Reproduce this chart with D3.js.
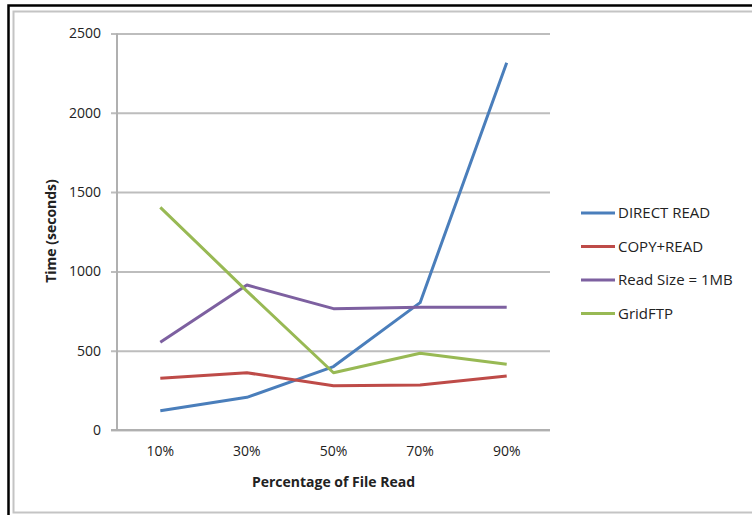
<!DOCTYPE html>
<html>
<head>
<meta charset="utf-8">
<script src="https://cdn.jsdelivr.net/npm/d3@7/dist/d3.min.js"></script>
<style>
  html, body { margin: 0; padding: 0; background: #fff; }
  svg { display: block; }
  text { font-family: "Open Sans", "Liberation Sans", sans-serif; fill: #222; }
</style>
</head>
<body>
<script>
// Time taken to read files, by percentage of the file read
const categories = ["10%", "30%", "50%", "70%", "90%"];
const seriesNames = ["DIRECT READ", "COPY+READ", "Read Size = 1MB", "GridFTP"];
const directRead = [122, 206, 400, 803, 2316];
const copyRead = [326, 361, 279, 284, 340];
const readSize1MB = [553, 914, 765, 774, 774];
const gridFTP = [1404, 876, 361, 484, 414];
const yTicks = [0, 500, 1000, 1500, 2000, 2500];
const seriesColors = ["#4a7ebb", "#be4b48", "#7d60a0", "#98b954"];

const W = 752, H = 515;
const svg = d3.select("body").append("svg").attr("width", W).attr("height", H);

// outer frame
svg.append("rect").attr("x", 8.5).attr("y", 5.5).attr("width", 900).attr("height", 700)
  .attr("fill", "none").attr("stroke", "#000").attr("stroke-width", 2.5);
svg.append("rect").attr("x", 13.5).attr("y", 11.5).attr("width", 900).attr("height", 501)
  .attr("fill", "none").attr("stroke", "#c4c4c4").attr("stroke-width", 2);

const plot = { left: 117, right: 550, top: 33.5, bottom: 430 };

const x = d3.scaleBand().domain(categories).range([plot.left, plot.right]);
const y = d3.scaleLinear().domain([0, 2500]).range([plot.bottom, plot.top]);

// gridlines with outward tick stubs
const yAxis = d3.axisLeft(y).tickValues(yTicks)
  .tickSize(-(plot.right - plot.left)).tickSizeOuter(0).tickPadding(16)
  .tickFormat(d3.format("d"));
const gy = svg.append("g").attr("transform", `translate(${plot.left},0)`).call(yAxis);
gy.select(".domain").remove();
gy.selectAll(".tick line").attr("stroke", "#bdbdbd").attr("stroke-width", 2)
  .attr("x1", -6);
gy.selectAll(".tick text").attr("font-size", 14).attr("fill", "#222");

// axis lines
svg.append("line").attr("x1", plot.left).attr("x2", plot.left)
  .attr("y1", plot.top).attr("y2", plot.bottom)
  .attr("stroke", "#b0b0b0").attr("stroke-width", 2);
const xAxis = d3.axisBottom(x).tickSize(0).tickPadding(16);
const gx = svg.append("g").attr("transform", `translate(0,${plot.bottom})`).call(xAxis);
gx.select(".domain").attr("stroke", "#b0b0b0").attr("stroke-width", 2)
  .attr("d", `M${plot.left - 6},0H${plot.right}`);
gx.selectAll(".tick text").attr("font-size", 14).attr("fill", "#222");

// series lines
const allSeries = [directRead, copyRead, readSize1MB, gridFTP];
const line = d3.line()
  .x((d, i) => x(categories[i]) + x.bandwidth() / 2)
  .y(d => y(d));
allSeries.forEach((vals, k) => {
  svg.append("path").datum(vals).attr("d", line)
    .attr("fill", "none").attr("stroke", seriesColors[k])
    .attr("stroke-width", 3).attr("stroke-linejoin", "round");
});

// axis titles
svg.append("text").attr("x", (plot.left + plot.right) / 2).attr("y", 487)
  .attr("text-anchor", "middle").attr("font-size", 14).attr("font-weight", "bold")
  .text("Percentage of File Read");
svg.append("text").attr("transform", "translate(56,231) rotate(-90)")
  .attr("text-anchor", "middle").attr("font-size", 14).attr("font-weight", "bold")
  .text("Time (seconds)");

// legend
const legend = svg.append("g");
seriesNames.forEach((name, k) => {
  const ly = 213 + k * 33.5;
  legend.append("line").attr("x1", 581).attr("x2", 615).attr("y1", ly).attr("y2", ly)
    .attr("stroke", seriesColors[k]).attr("stroke-width", 3);
  legend.append("text").attr("x", 618).attr("y", ly).attr("dy", "0.35em")
    .attr("font-size", 15).text(name);
});
</script>
</body>
</html>
